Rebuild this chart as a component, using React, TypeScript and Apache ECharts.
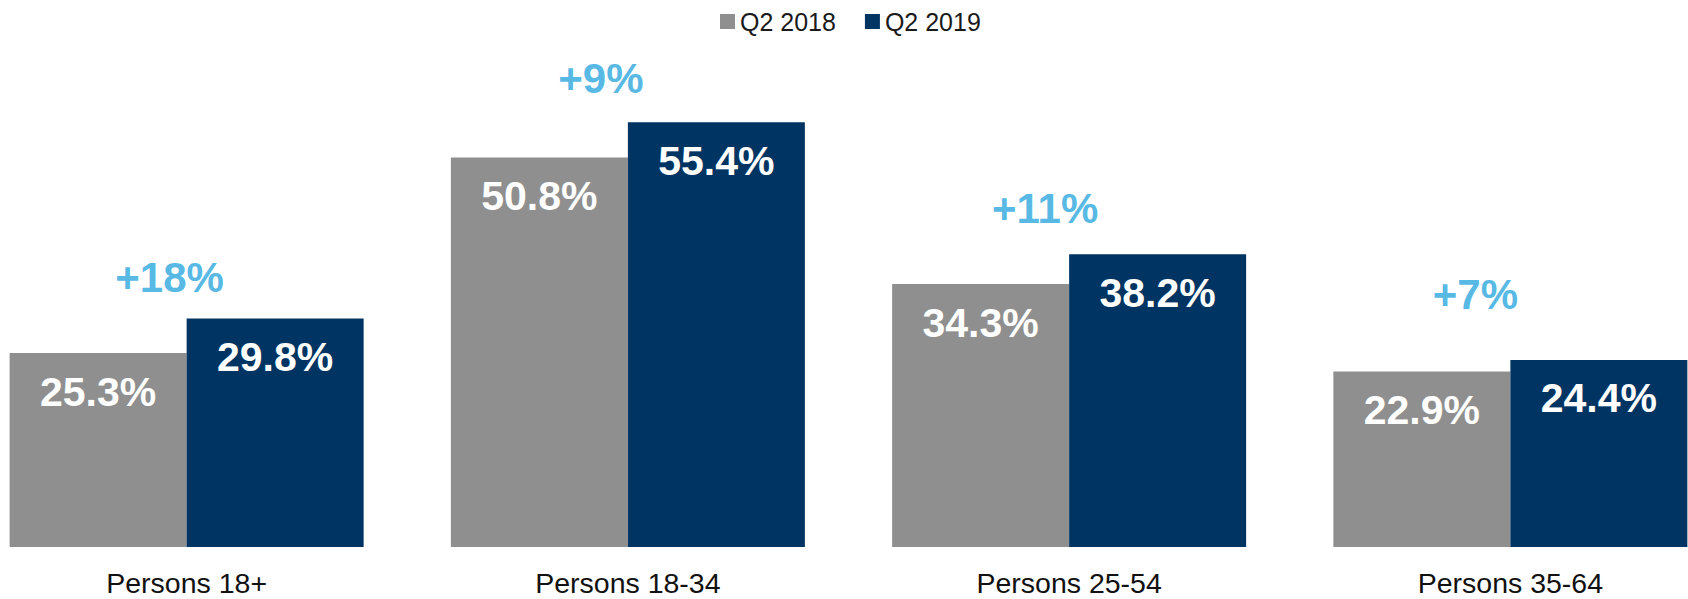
import React, { useEffect, useRef } from "react";
import * as echarts from "echarts";

const categories = ["Persons 18+", "Persons 18-34", "Persons 25-54", "Persons 35-64"];
const seriesNames = ["Q2 2018", "Q2 2019"];
const values2018 = [25.3, 50.8, 34.3, 22.9];
const values2019 = [29.8, 55.4, 38.2, 24.4];
const changeLabels = ["+18%", "+9%", "+11%", "+7%"];
// label offsets (px) of the change annotations relative to the Q2 2019 bar top, category centre
const changeLabelOffsets = [
  [-17, -41],
  [-27, -44],
  [-24, -46],
  [-35, -65],
];

const FONT = "'Liberation Sans', Arial, sans-serif";
const GRAY = "#8f8f8f";
const NAVY = "#003462";
const BLUE = "#29a6dd";

// plot area extends slightly beyond the picture on both sides
const SHIFT_LEFT = 34;
const CHART_WIDTH = 1765;

export default function App() {
  const ref = useRef<HTMLDivElement>(null);
  useEffect(() => {
    if (!ref.current) return;
    const chart = echarts.init(ref.current, null, { renderer: "svg" });
    const valueLabel = {
      show: true,
      position: "insideTop",
      distance: 18,
      color: "#ffffff",
      fontWeight: "bold",
      fontSize: 41,
      fontFamily: FONT,
      formatter: (p: any) => `${Number(p.value).toFixed(1)}%`,
    };
    chart.setOption({
      animation: false,
      backgroundColor: "#ffffff",
      legend: {
        data: seriesNames,
        top: 4,
        left: 715 + SHIFT_LEFT,
        icon: "rect",
        itemWidth: 15,
        itemHeight: 15,
        itemGap: 29,
        textStyle: { fontSize: 25, color: "#1a1a1a", fontFamily: FONT },
      },
      grid: { left: 0, right: 0, top: 87, bottom: 52 },
      xAxis: {
        type: "category",
        data: categories,
        axisLine: { show: false },
        axisTick: { show: false },
        axisLabel: { fontSize: 28.5, color: "#111111", margin: 21, fontFamily: FONT },
      },
      yAxis: {
        type: "value",
        min: 0,
        max: 60,
        show: false,
        splitLine: { show: false },
      },
      series: [
        {
          name: seriesNames[0],
          type: "bar",
          data: values2018,
          barWidth: 177,
          barGap: "0%",
          itemStyle: { color: GRAY },
          label: valueLabel,
        },
        {
          name: seriesNames[1],
          type: "bar",
          data: values2019,
          barWidth: 177,
          barGap: "0%",
          itemStyle: { color: NAVY },
          label: valueLabel,
        },
        {
          name: "change",
          type: "scatter",
          symbolSize: 1,
          itemStyle: { color: "rgba(0,0,0,0)" },
          silent: true,
          data: values2019.map((v, i) => ({
            value: v,
            label: {
              show: true,
              position: "inside",
              offset: changeLabelOffsets[i],
              formatter: changeLabels[i],
              color: BLUE,
              fontWeight: "bold",
              fontSize: 42,
              fontFamily: FONT,
            },
          })),
        },
      ],
    });
    return () => chart.dispose();
  }, []);
  return (
    <div
      style={{
        position: "absolute",
        left: 0,
        top: 0,
        width: 1688,
        height: 599,
        overflow: "hidden",
        background: "#ffffff",
      }}
    >
      <div
        ref={ref}
        style={{ position: "absolute", left: -SHIFT_LEFT, top: 0, width: CHART_WIDTH, height: 599 }}
      />
    </div>
  );
}
